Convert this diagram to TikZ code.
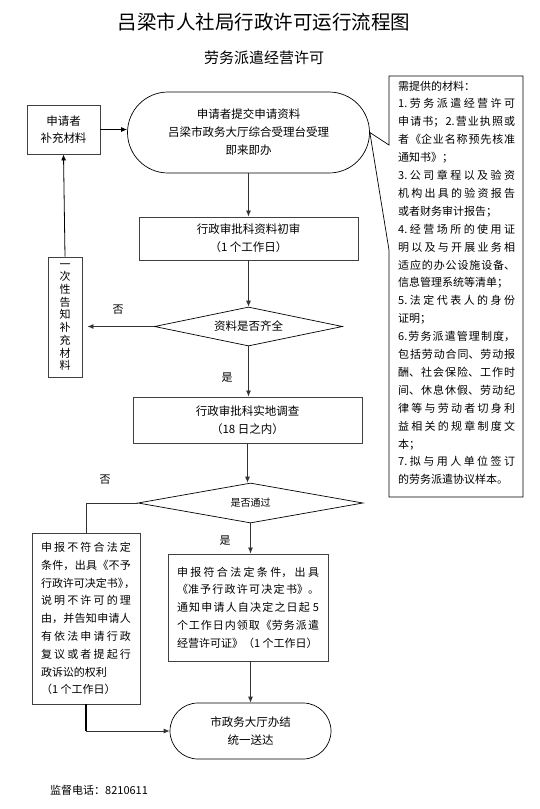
\documentclass[tikz,border=0pt]{standalone}
\usepackage{fontspec}
\setmainfont{Noto Sans CJK SC}
\usetikzlibrary{shapes.geometric,arrows.meta}
\XeTeXlinebreaklocale "zh"
\XeTeXlinebreakskip=0pt plus 3pt
\begin{document}
\begin{tikzpicture}[x=1pt,y=1pt,
  box/.style={draw=black!75, line width=0.9pt, rectangle, inner sep=0pt},
  term/.style={draw=black, line width=0.7pt, rectangle, rounded corners=#1, inner sep=0pt},
  dia/.style={draw=black, line width=0.7pt, diamond, inner sep=0pt, aspect=5},
  arr/.style={-{Latex[length=6pt,width=5pt]}, line width=0.8pt, draw=black!80},
  ln/.style={line width=0.8pt, draw=black!80},
  lab/.style={font=\fontsize{11}{13}\selectfont, inner sep=0pt},
  ctext/.style={font=\fontsize{11.5}{18}\selectfont, align=center},
  jtext/.style={font=\fontsize{11}{17.8}\selectfont}
]
\fill[white] (0,0) rectangle (539,-809);
\useasboundingbox (0,0) rectangle (539,-809);

% titles
\node[inner sep=0pt, font=\fontsize{19.5}{24}\selectfont] (title) at (264,-22) {吕梁市人社局行政许可运行流程图};
\node[inner sep=0pt, font=\fontsize{15}{18}\selectfont] (sub) at (264,-58) {劳务派遣经营许可};

% nodes
\node[box, minimum width=73pt, minimum height=49pt, font=\fontsize{11.5}{17}\selectfont, align=center] (supp) at (63.5,-129.5) {申请者\\补充材料};
\node[term=40.5pt, minimum width=242pt, minimum height=81pt, ctext] (start) at (248.5,-132.5) {申请者提交申请资料\\吕梁市政务大厅综合受理台受理\\即来即办};
\node[box, minimum width=219pt, minimum height=43pt, ctext] (check1) at (248.5,-238.5) {行政审批科资料初审\\（1 个工作日）};
\node[dia, minimum width=188pt, minimum height=39pt, font=\fontsize{11.5}{14}\selectfont] (d1) at (248.5,-326.5) {资料是否齐全};
\node[box, minimum width=34pt, minimum height=120pt, font=\fontsize{11}{12.7}\selectfont, align=center] (notify) at (65,-317) {一\\次\\性\\告\\知\\补\\充\\材\\料};
\node[box, minimum width=229pt, minimum height=46pt, ctext] (survey) at (247.5,-420) {行政审批科实地调查\\（18 日之内）};
\node[dia, minimum width=225pt, minimum height=40pt, font=\fontsize{10}{12}\selectfont] (d2) at (250.5,-503) {是否通过};
\node[box, minimum width=108pt, minimum height=171pt, jtext] (reject) at (86,-618.5) {\parbox{90pt}{申报不符合法定\linebreak
条件，出具《不予\linebreak
\mbox{行政许可决定书》\kern-5pt ，}\linebreak
说明不许可的理\linebreak
由，并告知申请人\linebreak
有依法申请行政\linebreak
复议或者提起行\linebreak
政诉讼的权利\par
（1 个工作日）}};
\node[box, minimum width=160pt, minimum height=107pt, jtext] (approve) at (248,-607.5) {\parbox{142pt}{申报符合法定条件，出具\linebreak
《准予行政许可决定书》。\linebreak
通知申请人自决定之日起 5\linebreak
个工作日内领取《劳务派遣\linebreak
经营许可证》（1 个工作日）}};
\node[term=28pt, minimum width=161pt, minimum height=56pt, ctext] (end) at (250.5,-731) {市政务大厅办结\\统一送达};

% callout
\draw[line width=0.7pt] (389,-145) -- (389,-76) -- (523,-76) -- (523,-497) -- (389,-497) -- (389,-250) -- (start.east) -- cycle;
\node[anchor=base west, inner sep=0pt, jtext] (mat) at (398,-90) {\parbox[t]{117pt}{\fontsize{11}{17.9}\selectfont 需提供的材料：\par
1.劳务派遣经营许可\linebreak
申请书；2.营业执照或\linebreak
者《企业名称预先核准\linebreak
通知书》；\par
3.公司章程以及验资\linebreak
机构出具的验资报告\linebreak
或者财务审计报告；\par
4.经营场所的使用证\linebreak
明以及与开展业务相\linebreak
适应的办公设施设备、\linebreak
信息管理系统等清单；\par
5.法定代表人的身份\linebreak
证明；\par
6.劳务派遣管理制度，\linebreak
包括劳动合同、劳动报\linebreak
酬、社会保险、工作时\linebreak
间、休息休假、劳动纪\linebreak
律等与劳动者切身利\linebreak
益相关的规章制度文\linebreak
本；\par
7.拟与用人单位签订\linebreak
的劳务派遣协议样本。}};

% labels
\node[lab] (no1) at (118,-310) {否};
\node[lab] (yes1) at (227,-378) {是};
\node[lab] (no2) at (105,-480) {否};
\node[lab] (yes2) at (225,-541) {是};

% footer
\node[anchor=west, inner sep=0pt, font=\fontsize{11}{13}\selectfont] (tel) at (50,-790) {监督电话：8210611};

% connectors
\draw[arr, draw=black] (supp.east) -- (supp.east -| start.west);
\draw[arr] (start.south) -- (start.south |- check1.north);
\draw[arr] (check1.south) -- (check1.south |- d1.north);
\draw[arr, shorten >=5pt] (d1.west) -- (notify.east |- d1.west);
\draw[arr, draw=black] (notify.north) -- (supp.south);
\draw[arr] (d1.south) -- (d1.south |- survey.north);
\draw[arr] (survey.south) -- (survey.south |- d2.north);
\draw[ln] (d2.west) -- (reject.north |- d2.west) -- (reject.north);
\draw[arr] (d2.south) -- (d2.south |- approve.north);
\draw[arr] (approve.south -| end.north) -- (end.north);
\draw[ln, line width=1.2pt, draw=black] (reject.south) -- (reject.south |- end.west);
\draw[arr] (reject.south |- end.west) -- (end.west);
\end{tikzpicture}
\end{document}
